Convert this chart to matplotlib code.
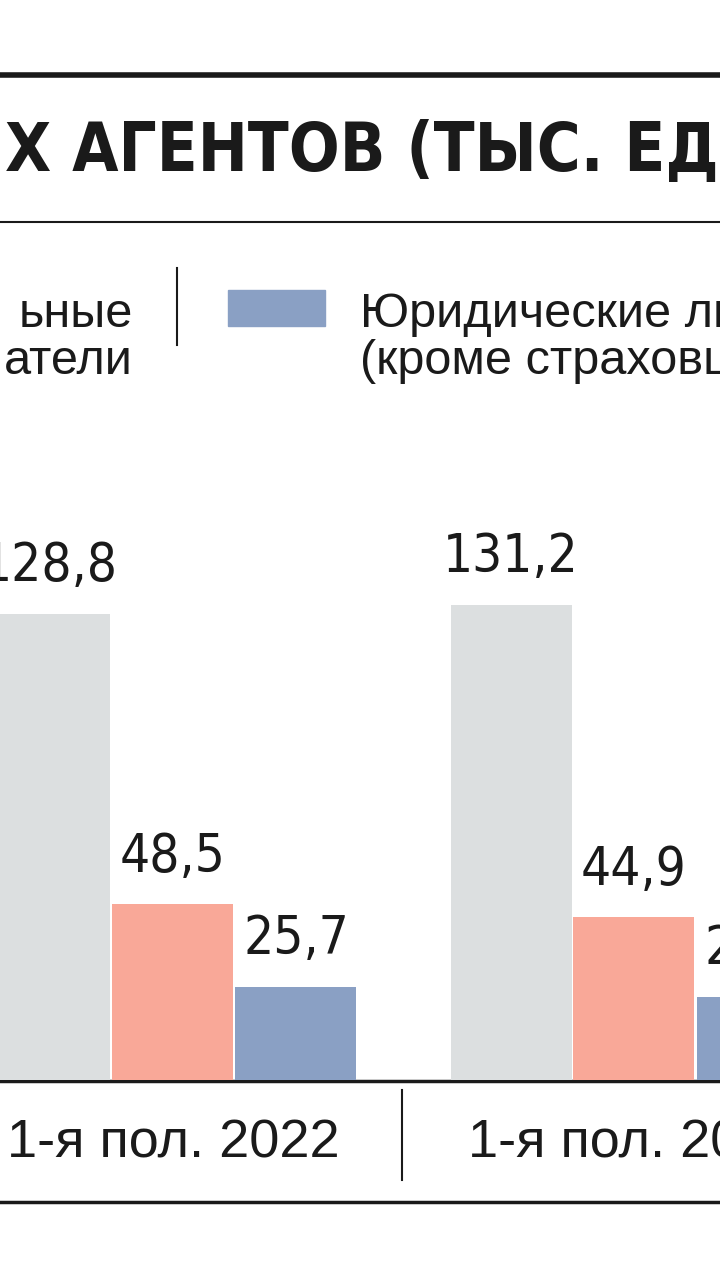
import matplotlib
matplotlib.use("Agg")
import matplotlib.pyplot as plt
from matplotlib.patches import Rectangle

periods = ["1-я пол. 2022", "1-я пол. 2023"]
gray_vals = [128.8, 131.2]
salmon_vals = [48.5, 44.9]
blue_vals = [25.7, 23.0]
labels_fmt = lambda v: f"{v:.1f}".replace(".", ",")

C_GRAY, C_SAL, C_BLUE = "#dcdfe0", "#f9a898", "#8aa0c4"
NARROW = ["DejaVu Sans"]
REG = ["Liberation Sans", "DejaVu Sans"]

W, H = 720, 1280
fig = plt.figure(figsize=(7.2, 12.8), dpi=100)
fig.patch.set_facecolor("white")

ov = fig.add_axes([0, 0, 1, 1])
ov.set_xlim(0, W); ov.set_ylim(H, 0); ov.axis("off")

ax = fig.add_axes([0, (H - 1080) / H, 1, 680 / H])
pitch = 461.0
ax.set_xlim(-173 / pitch, (W - 173) / pitch)
ax.set_ylim(0, 680 / 3.62)
ax.axis("off")
bw = 121 / pitch
off = 123 / pitch
xs = list(range(len(periods)))
for series, col, o in [(gray_vals, C_GRAY, -off), (salmon_vals, C_SAL, 0), (blue_vals, C_BLUE, off)]:
    bars = ax.bar([x + o for x in xs], series, width=bw, color=col, clip_on=False)
    for b, v in zip(bars, series):
        ax.text(b.get_x() + b.get_width() / 2, v + 6, labels_fmt(v), ha="center", va="bottom",
                fontsize=38, family=NARROW, fontstretch="condensed", color="#1a1a1a", clip_on=False)

ov.plot([0, W], [75, 75], color="#1a1a1a", lw=4)
ov.plot([0, W], [222, 222], color="#1a1a1a", lw=1.5)
ov.text(5, 152, "Х АГЕНТОВ (ТЫС. ЕД.)", ha="left", va="center", fontsize=48,
        fontweight="bold", family=NARROW, fontstretch="condensed", color="#1a1a1a")
ov.text(133, 338, "ьные\nатели", ha="right", va="center", fontsize=35, family=REG,
        color="#1a1a1a", linespacing=1.05)
ov.plot([177, 177], [268, 345], color="#1a1a1a", lw=1.5)
ov.add_patch(Rectangle((228, 290), 97, 36, color=C_BLUE))
ov.text(360, 338, "Юридические лица\n(кроме страховщиков)", ha="left", va="center", fontsize=35,
        family=REG, color="#1a1a1a", linespacing=1.05)

ov.plot([0, W], [1081, 1081], color="#1a1a1a", lw=2.5)
ov.plot([0, W], [1202, 1202], color="#1a1a1a", lw=2.5)
ov.plot([402, 402], [1090, 1180], color="#1a1a1a", lw=1.5)
for x, p in zip(xs, periods):
    px = 173 + x * pitch
    ov.text(px, 1143, p, ha="center", va="center", fontsize=39, family=REG, color="#1a1a1a")

fig.savefig("out.png", dpi=100, facecolor="white")
